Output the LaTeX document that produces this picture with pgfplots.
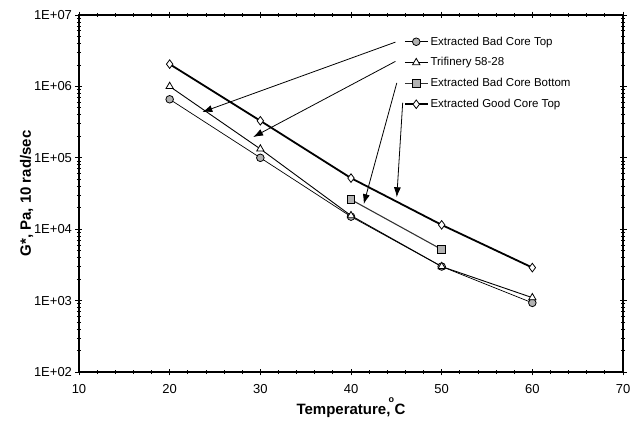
\documentclass[border=0pt]{standalone}
\usepackage{pgfplots}
\pgfplotsset{compat=1.18}
\usetikzlibrary{arrows.meta}
\usepackage{fontspec}
\setmainfont{Liberation Sans}
\begin{document}
\begin{tikzpicture}
\useasboundingbox (-79pt,-52pt) rectangle (552pt,372pt);
\begin{semilogyaxis}[
  scale only axis,
  width=544pt, height=357pt,
  xmin=10, xmax=70, ymin=1e2, ymax=1e7,
  xtick={10,20,...,70},
  minor x tick num=4,
  ytick={1e2,1e3,1e4,1e5,1e6,1e7},
  yticklabels={1E+02,1E+03,1E+04,1E+05,1E+06,1E+07},
  axis line style={line width=1.4pt},
  tick style={black, line width=0.8pt},
  tick align=center,
  major tick length=7pt,
  minor tick length=4pt,
  /pgf/number format/assume math mode=true,
  tick label style={font=\fontsize{13}{15}\selectfont},
  xticklabel style={yshift=-5pt},
  xlabel={Temperature, \llap{\raisebox{1.5ex}{\fontsize{9}{10}\selectfont\textbf{o}}\hspace{0.5pt}}C},
  ylabel={G*, Pa, 10 rad/sec},
  label style={font=\fontsize{15}{17}\selectfont\bfseries},
  xlabel style={yshift=2pt},
  ylabel style={yshift=-6pt},
  legend style={draw=none, fill=none, at={(0.597,0.945)}, anchor=north west,
    font=\fontsize{11.5}{13}\selectfont, row sep=7pt, inner sep=0pt,
    /tikz/every even column/.append style={column sep=2pt}},
  legend image code/.code={%
    \draw[mark repeat=2,mark phase=2,#1] plot coordinates {(0cm,0cm) (0.4cm,0cm) (0.8cm,0cm)};},
  legend cell align=left,
]
\addplot[black, line width=0.7pt, mark=*, mark size=3.8pt, mark options={fill=gray!60, line width=0.8pt}]
  coordinates {(20,6.6e5) (30,1.0e5) (40,1.5e4) (50,3.0e3) (60,930)};
\addlegendentry{Extracted Bad Core Top}
\addplot[black, line width=0.9pt, mark=triangle*, mark size=4.2pt, mark options={fill=white, line width=0.8pt}]
  coordinates {(20,1.0e6) (30,1.33e5) (40,1.55e4) (50,3.0e3) (60,1.1e3)};
\addlegendentry{Trifinery 58-28}
\addplot[black!80, line width=1.1pt, mark=square*, mark size=3.8pt, mark options={fill=gray!60, draw=black, line width=0.8pt}]
  coordinates {(40,2.6e4) (50,5.2e3)};
\addlegendentry{Extracted Bad Core Bottom}
\addplot[black, line width=1.8pt, mark=diamond*, mark size=4.3pt, mark options={fill=white, line width=0.8pt}]
  coordinates {(20,2.05e6) (30,3.3e5) (40,5.2e4) (50,1.15e4) (60,2.9e3)};
\addlegendentry{Extracted Good Core Top}
\draw[-{Latex[length=10pt,width=7pt]}, line width=0.8pt] (axis cs:44.9,4.17e6) -- (axis cs:23.6,4.37e5);
\draw[-{Latex[length=10pt,width=7pt]}, line width=0.8pt] (axis cs:44.9,2.24e6) -- (axis cs:29.2,1.95e5);
\draw[-{Latex[length=10pt,width=7pt]}, line width=0.8pt] (axis cs:45.05,1.12e6) -- (axis cs:41.4,2.24e4);
\draw[-{Latex[length=10pt,width=7pt]}, line width=0.8pt] (axis cs:45.7,5.9e5) -- (axis cs:45.05,2.8e4);
\end{semilogyaxis}
\end{tikzpicture}
\end{document}
